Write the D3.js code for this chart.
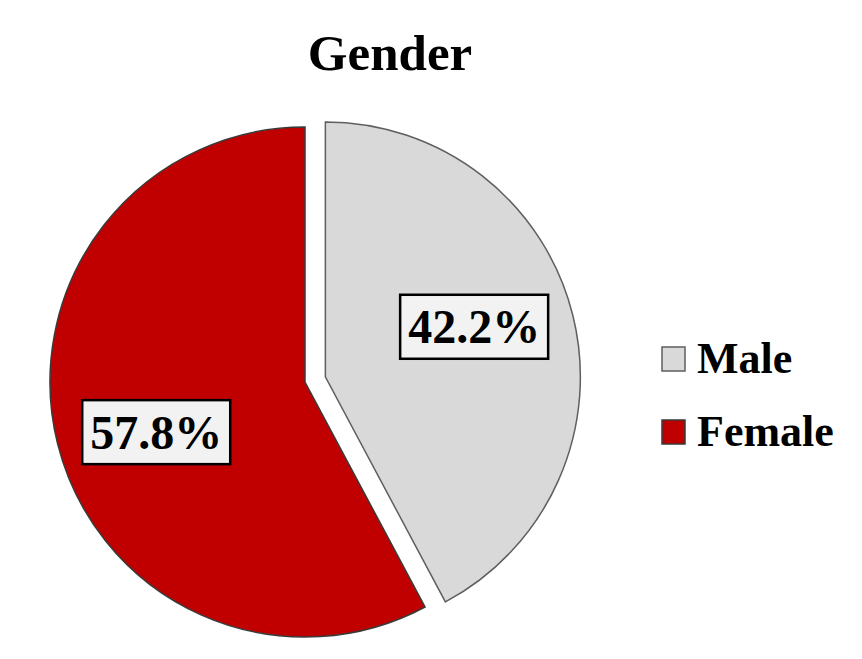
<!DOCTYPE html>
<html>
<head>
<meta charset="utf-8">
<script src="https://cdn.jsdelivr.net/npm/d3@7/dist/d3.min.js"></script>
<style>
  html, body { margin: 0; padding: 0; background: #fff; }
  text { font-family: "Liberation Serif", "Times New Roman", serif; font-weight: bold; }
</style>
</head>
<body>
<svg id="chart" width="862" height="659"></svg>
<script>
const categories = ["Male", "Female"];
const values = [42.2, 57.8];
const labels = ["42.2%", "57.8%"];
const colors = ["#D9D9D9", "#C00000"];
const strokes = ["#5f5f5f", "#3a3a3a"];
const explode = [21, 0];

const svg = d3.select("#chart");
const cx = 305, cy = 382, R = 255;

svg.append("text")
  .attr("x", 390).attr("y", 70)
  .attr("text-anchor", "middle")
  .attr("font-size", 51)
  .attr("fill", "#000")
  .text("Gender");

const pie = d3.pie().sort(null).value(d => d)(values);
const arc = d3.arc().innerRadius(0).outerRadius(R);

const g = svg.append("g").attr("transform", `translate(${cx},${cy})`);

const slices = g.selectAll("g.slice").data(pie).enter().append("g")
  .attr("class", "slice")
  .attr("transform", (d, i) => {
    const a = (d.startAngle + d.endAngle) / 2;
    return `translate(${Math.sin(a) * explode[i]},${-Math.cos(a) * explode[i]})`;
  });

slices.append("path")
  .attr("d", arc)
  .attr("fill", (d, i) => colors[i])
  .attr("stroke", (d, i) => strokes[i])
  .attr("stroke-width", 1.5)
  .attr("stroke-linejoin", "miter");

const labelR = 157, labelShift = 0.08;
slices.each(function(d, i) {
  const sel = d3.select(this);
  const a = (d.startAngle + d.endAngle) / 2 - labelShift;
  const lx = Math.sin(a) * labelR, ly = -Math.cos(a) * labelR;
  const t = sel.append("text")
    .attr("x", lx).attr("y", ly)
    .attr("text-anchor", "middle")
    .attr("dominant-baseline", "central")
    .attr("font-size", 48)
    .attr("fill", "#000")
    .text(labels[i]);
  const bb = t.node().getBBox();
  const padX = 8, boxH = 64;
  sel.insert("rect", "text")
    .attr("x", bb.x - padX)
    .attr("y", ly - boxH / 2)
    .attr("width", bb.width + 2 * padX)
    .attr("height", boxH)
    .attr("fill", "#F2F2F2")
    .attr("stroke", "#000")
    .attr("stroke-width", 2.5);
});

const legend = svg.append("g").attr("transform", "translate(662,347)");
const items = legend.selectAll("g").data(categories).enter().append("g")
  .attr("transform", (d, i) => `translate(0,${i * 73})`);
items.append("rect")
  .attr("x", 0).attr("y", 0).attr("width", 23).attr("height", 24)
  .attr("fill", (d, i) => colors[i])
  .attr("stroke", (d, i) => strokes[i])
  .attr("stroke-width", 1.5);
items.append("text")
  .attr("x", 35).attr("y", 26)
  .attr("font-size", 44)
  .attr("fill", "#000")
  .text(d => d);
</script>
</body>
</html>
